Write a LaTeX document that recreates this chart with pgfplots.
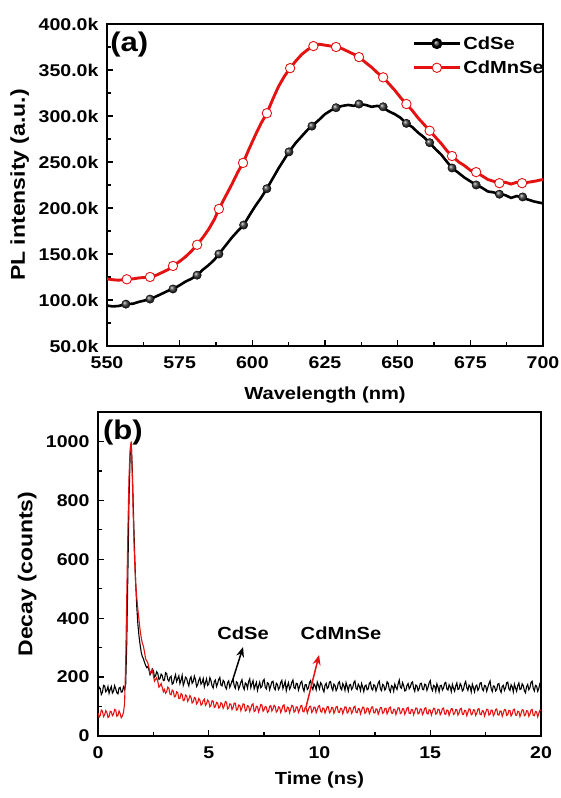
\documentclass[border=0pt]{standalone}
\usepackage{fontspec}
\setmainfont{Liberation Sans}[FakeStretch=1.15]
\usepackage{pgfplots}
\pgfplotsset{compat=1.18}
\usetikzlibrary{arrows.meta}
\definecolor{myred}{RGB}{228,18,18}
\newcommand{\tfont}{\fontsize{17}{19}\selectfont\bfseries}
\newcommand{\lfont}{\fontsize{17.5}{20}\selectfont\bfseries}
\newcommand{\yfont}{\fontsize{20}{22}\selectfont\bfseries}
\pgfplotsset{
  myaxis/.style={
    scale only axis,
    axis line style={line width=1.5pt},
    tick style={line width=1.3pt, black},
    major tick length=6pt,
    minor tick length=3.5pt,
    xtick align=inside,
    ytick align=inside,
    tick pos=left,
    minor x tick num=1,
    minor y tick num=1,
    tick label style={font=\tfont},
    /pgf/number format/assume math mode=true,
    /pgf/number format/1000 sep={},
    xticklabel style={yshift=-7pt},
    yticklabel style={xshift=-5pt},
  }
}
\begin{document}
\begin{tikzpicture}
\useasboundingbox (0pt,0pt) rectangle (560pt,798pt);
% ---------------- (a) ----------------
\begin{axis}[myaxis, at={(107pt,452pt)}, anchor=south west,
  width=436pt, height=322pt,
  xmin=550, xmax=700, ymin=50, ymax=400,
  xtick={550,575,...,700},
  ytick={50,100,...,400},
  yticklabels={50.0k,100.0k,150.0k,200.0k,250.0k,300.0k,350.0k,400.0k},
  xlabel={Wavelength (nm)}, ylabel={PL intensity (a.u.)},
  every axis x label/.style={at={(axis description cs:0.5,-0.152)}, anchor=center, font=\lfont},
  every axis y label/.style={at={(axis description cs:-0.2,0.5)}, anchor=center, rotate=90, font=\yfont},
  legend style={draw=none, fill=none, at={(axis description cs:0.70,0.968)}, anchor=north west,
    font=\lfont, inner sep=0pt, row sep=6pt, cells={anchor=west}},
  legend image code/.code={\draw[mark repeat=2,mark phase=2,#1] plot coordinates {(0pt,0pt)(23pt,0pt)(46pt,0pt)};},
]
\addlegendimage{black, line width=2.6pt, mark=ball, mark size=4.2pt, mark options={ball color=black!75}}
\addlegendentry{CdSe}
\addlegendimage{myred, line width=2.9pt, mark=*, mark size=4.7pt, mark options={fill=white, draw=myred, line width=0.9pt}}
\addlegendentry{CdMnSe}
% CdSe line
\addplot[black, line width=2.6pt, forget plot] coordinates {
(550,94)(552,93)(554,93.5)(556.5,95.5)(559,96)(561,98)(563,99.5)(564.8,101)(567,104)(569,107)
(571,110)(572.7,112)(575,116)(577,120)(579,123)(581,127)(583,133)(585,138)(587,144)(588.5,150)
(591,160)(593,168)(595,175)(597,181.5)(599,192)(601,202)(603,211)(605,221)(607,232)(609,243)
(611,253)(612.6,261)(615,271)(617,278)(619,285)(620.5,289)(623,296)(625,302)(627,306)(628.8,309)
(631,311)(633,312)(635,311)(636.7,313)(639,312)(641,310)(643,311)(645,309)(647,305)(649,302)
(651,298)(653,292)(655,288)(657,282)(659,277)(661,271)(663,264)(665,258)(667,250)(668.7,243.5)
(671,238)(673,233)(675,229)(677,225)(679,222)(681,218)(683,217)(685,215)(687,214)(689,211)
(691,213)(693,211)(695,209)(697,207)(700,205)};
\addplot[only marks, mark=ball, mark size=4.2pt, mark options={ball color=black!75}, forget plot] coordinates {
(556.5,95.5)(564.8,101)(572.7,112)(581,127)(588.5,150)(597,181.5)(605,221)(612.6,261)(620.5,289)
(628.8,309)(636.7,313)(645,310)(653,292)(661,271)(668.7,243.5)(677,225)(685,215)(693,212)};
% CdMnSe line
\addplot[myred, line width=2.9pt, forget plot] coordinates {
(550,123)(552,122)(554,121.5)(556.8,122.5)(559,123)(561,124)(563,124.5)(564.8,125)(567,127)(569,130)
(571,133)(572.7,137)(575,142)(577,147)(579,153)(581,160)(583,168)(585,177)(587,188)(588.5,199)
(591,214)(593,226)(595,239)(596.8,249)(599,265)(601,279)(603,292)(605,303)(607,318)(609,332)
(611,343)(613,352)(615,360)(617,367)(619,372)(621,376)(623,378)(625,377)(627,376)(628.8,375)
(631,373)(633,370)(635,367)(636.7,364)(639,358)(641,353)(643,347)(645,342)(647,335)(649,328)
(651,320)(653,313)(655,306)(657,298)(659,291)(661,284)(663,277)(665,270)(667,262)(668.7,256.5)
(671,250)(673,246)(675,241)(677,239)(679,235)(681,231)(683,229)(685,227)(687,228)(689,226)
(691,228)(693,227)(695,228)(697,229)(700,231)};
\addplot[only marks, mark=*, mark size=4.7pt, mark options={fill=white, draw=myred, line width=0.9pt}, forget plot] coordinates {
(556.8,122.5)(564.8,125)(572.7,137)(581,160)(588.5,199)(596.8,249)(605,303)(613,352)(621,376)
(628.8,375)(636.7,364)(645,342)(653,313)(661,284)(668.7,256.5)(677,239)(685,227)(692.8,227)};
\node[anchor=north west, inner sep=0pt, font=\fontsize{27}{30}\selectfont\bfseries] at (axis description cs:0.007,0.975) {(a)};
\end{axis}
% ---------------- (b) ----------------
\begin{axis}[myaxis, at={(98pt,62pt)}, anchor=south west,
  width=443pt, height=324pt,
  xmin=0, xmax=20, ymin=0, ymax=1100,
  xtick={0,5,...,20}, ytick={0,200,...,1000},
  xlabel={Time (ns)}, ylabel={Decay (counts)},
  every axis x label/.style={at={(axis description cs:0.5,-0.136)}, anchor=center, font=\lfont},
  every axis y label/.style={at={(axis description cs:-0.16,0.5)}, anchor=center, rotate=90, font=\yfont},
]
\addplot[black, line width=1.1pt] coordinates {
(0,150)(0.05,166)(0.1,162)(0.15,141)(0.2,148)(0.25,172)(0.3,170)(0.35,150)(0.4,155)(0.45,168)(0.5,145)(0.55,158)(0.6,168)
(0.65,146)(0.7,152)(0.75,171)(0.8,160)(0.85,147)(0.9,143)(0.95,163)(1.0,165)(1.05,149)(1.1,150)(1.15,167)(1.2,158)
(1.25,175)(1.3,320)(1.35,560)(1.4,800)(1.45,950)(1.5,995)(1.55,900)(1.6,760)(1.65,630)(1.7,520)(1.75,440)(1.8,380)
(1.85,340)(1.9,310)(1.95,285)(2.0,270)(2.05,262)(2.1,250)(2.15,240)(2.2,232)(2.25,236)(2.3,225)(2.35,208)(2.4,215)
(2.45,228)(2.5,222)(2.55,200)(2.6,205)(2.65,218)(2.7,212)(2.75,192)(2.8,195)
(2.85,210)(2.9,205)(2.95,188)(3.0,190)(3.05,215)(3.1,212)(3.15,192)(3.2,186)(3.25,199)(3.3,203)(3.35,176)(3.4,180)
(3.45,196)(3.5,208)(3.55,185)(3.6,195)(3.65,204)(3.7,178)(3.75,190)(3.8,206)(3.85,172)(3.9,183)(3.95,200)(4.0,196)
(4.05,181)(4.1,170)(4.15,193)(4.2,201)(4.25,179)(4.3,185)(4.35,203)(4.4,192)(4.45,168)(4.5,174)(4.55,189)(4.6,198)
(4.65,176)(4.7,182)(4.75,195)(4.8,167)(4.85,181)(4.9,194)(4.95,172)(5.0,176)(5.05,198)(5.1,188)(5.15,170)(5.2,163)
(5.25,185)(5.3,190)(5.35,168)(5.4,178)(5.45,192)(5.5,199)(5.55,173)(5.6,170)(5.65,189)(5.7,184)(5.75,166)(5.8,160)
(5.85,181)(5.9,187)(5.95,165)(6.0,175)(6.05,186)(6.1,193)(6.15,170)(6.2,162)(6.25,184)(6.3,180)(6.35,159)(6.4,169)
(6.45,183)(6.5,191)(6.55,167)(6.6,158)(6.65,180)(6.7,176)(6.75,162)(6.8,185)(6.85,194)(6.9,164)(6.95,178)(7.0,188)
(7.05,160)(7.1,171)(7.15,182)(7.2,155)(7.25,170)(7.3,183)(7.35,164)(7.4,168)(7.45,187)(7.5,192)(7.55,166)(7.6,160)
(7.65,181)(7.7,178)(7.75,157)(7.8,170)(7.85,184)(7.9,186)(7.95,163)(8.0,157)(8.05,179)(8.1,175)(8.15,158)(8.2,165)
(8.25,182)(8.3,189)(8.35,161)(8.4,172)(8.45,185)(8.5,154)(8.55,170)(8.6,181)(8.65,159)(8.7,167)(8.75,183)(8.8,190)
(8.85,164)(8.9,161)(8.95,179)(9.0,177)(9.05,156)(9.1,168)(9.15,181)(9.2,186)(9.25,163)(9.3,152)(9.35,174)(9.4,174)
(9.45,158)(9.5,163)(9.55,182)(9.6,188)(9.65,166)(9.7,158)(9.75,177)(9.8,171)(9.85,157)(9.9,183)(9.95,172)(10.0,160)
(10.05,181)(10.1,176)(10.15,159)(10.2,150)(10.25,172)(10.3,179)(10.35,161)(10.4,166)(10.45,183)(10.5,185)(10.55,164)
(10.6,155)(10.65,176)(10.7,172)(10.75,154)(10.8,162)(10.85,180)(10.9,184)(10.95,163)(11.0,157)(11.05,178)(11.1,170)
(11.15,155)(11.2,181)(11.25,168)(11.3,153)(11.35,173)(11.4,175)(11.45,158)(11.5,164)(11.55,182)(11.6,187)(11.65,162)
(11.7,158)(11.75,176)(11.8,169)(11.85,154)(11.9,178)(11.95,166)(12.0,151)(12.05,170)(12.1,173)(12.15,157)(12.2,160)
(12.25,179)(12.3,183)(12.35,161)(12.4,156)(12.45,174)(12.5,171)(12.55,153)(12.6,165)(12.65,180)(12.7,186)(12.75,160)
(12.8,154)(12.85,175)(12.9,172)(12.95,156)(13.0,163)(13.05,184)(13.1,180)(13.15,158)(13.2,150)(13.25,171)(13.3,168)
(13.35,152)(13.4,176)(13.45,165)(13.5,158)(13.55,177)(13.6,190)(13.65,166)(13.7,162)(13.75,181)(13.8,171)(13.85,153)
(13.9,155)(13.95,172)(14.0,178)(14.05,160)(14.1,166)(14.15,180)(14.2,184)(14.25,162)(14.3,152)(14.35,173)(14.4,170)
(14.45,154)(14.5,161)(14.55,178)(14.6,179)(14.65,159)(14.7,157)(14.75,176)(14.8,174)(14.85,155)(14.9,165)(14.95,181)
(15.0,188)(15.05,163)(15.1,154)(15.15,172)(15.2,169)(15.25,152)(15.3,177)(15.35,166)(15.4,150)(15.45,171)(15.5,172)
(15.55,156)(15.6,163)(15.65,179)(15.7,182)(15.75,160)(15.8,156)(15.85,174)(15.9,167)(15.95,151)(16.0,175)(16.05,162)
(16.1,152)(16.15,170)(16.2,180)(16.25,158)(16.3,160)(16.35,178)(16.4,171)(16.45,153)(16.5,158)(16.55,177)(16.6,185)
(16.65,163)(16.7,155)(16.75,173)(16.8,168)(16.85,150)(16.9,176)(16.95,164)(17.0,150)(17.05,169)(17.1,173)(17.15,155)
(17.2,162)(17.25,180)(17.3,181)(17.35,159)(17.4,154)(17.45,172)(17.5,170)(17.55,152)(17.6,165)(17.65,178)(17.7,187)
(17.75,161)(17.8,151)(17.85,170)(17.9,169)(17.95,153)(18.0,158)(18.05,176)(18.1,178)(18.15,157)(18.2,148)(18.25,168)
(18.3,172)(18.35,155)(18.4,163)(18.45,181)(18.5,183)(18.55,160)(18.6,155)(18.65,174)(18.7,167)(18.75,150)(18.8,176)
(18.85,163)(18.9,152)(18.95,171)(19.0,180)(19.05,158)(19.1,160)(19.15,177)(19.2,171)(19.25,154)(19.3,147)(19.35,168)
(19.4,175)(19.45,157)(19.5,164)(19.55,182)(19.6,186)(19.65,162)(19.7,153)(19.75,172)(19.8,170)(19.85,152)(19.9,161)
(19.95,179)(20.0,178)};
\addplot[myred, line width=1.1pt] coordinates {
(0,78)(0.05,64)(0.1,70)(0.15,88)(0.2,85)(0.25,66)(0.3,72)(0.35,86)(0.4,80)(0.45,63)(0.5,66)(0.55,84)(0.6,82)
(0.65,69)(0.7,74)(0.75,90)(0.8,88)(0.85,67)(0.9,70)(0.95,85)(1.0,76)(1.05,62)(1.1,68)(1.15,80)
(1.2,110)(1.25,250)(1.3,480)(1.35,700)(1.4,880)(1.45,975)(1.5,1000)(1.55,880)(1.6,720)(1.65,600)(1.7,520)
(1.75,470)(1.8,430)(1.85,395)(1.9,360)(1.95,335)(2.0,315)(2.05,305)(2.1,285)(2.15,262)(2.2,255)(2.25,248)(2.3,232)
(2.35,214)(2.4,220)(2.45,224)(2.5,205)(2.55,186)(2.6,192)(2.65,198)(2.7,185)(2.75,166)(2.8,170)(2.85,178)(2.9,165)
(2.95,150)(3.0,158)(3.05,145)(3.1,150)(3.15,166)(3.2,162)(3.25,142)(3.3,140)(3.35,156)(3.4,152)(3.45,133)(3.5,135)
(3.55,150)(3.6,147)(3.65,127)(3.7,128)(3.75,144)(3.8,140)(3.85,120)(3.9,122)(3.95,139)(4.0,136)(4.05,118)(4.1,125)
(4.15,137)(4.2,131)(4.25,112)(4.3,116)(4.35,131)(4.4,128)(4.45,109)(4.5,113)(4.55,127)(4.6,122)(4.65,105)(4.7,108)
(4.75,121)(4.8,125)(4.85,104)(4.9,110)(4.95,122)(5.0,117)(5.05,99)(5.1,104)(5.15,120)(5.2,118)(5.25,97)(5.3,100)
(5.35,114)(5.4,112)(5.45,95)(5.5,98)(5.55,113)(5.6,110)(5.65,94)(5.7,102)(5.75,117)(5.8,115)(5.85,92)(5.9,95)
(5.95,109)(6.0,108)(6.05,90)(6.1,97)(6.15,112)(6.2,111)(6.25,88)(6.3,90)(6.35,105)(6.4,104)(6.45,86)(6.5,96)
(6.55,109)(6.6,108)(6.65,85)(6.7,88)(6.75,103)(6.8,101)(6.85,84)(6.9,94)(6.95,106)(7.0,109)(7.05,83)(7.1,86)
(7.15,101)(7.2,99)(7.25,82)(7.3,92)(7.35,107)(7.4,105)(7.45,84)(7.5,89)(7.55,100)(7.6,98)(7.65,80)(7.7,84)
(7.75,101)(7.8,103)(7.85,85)(7.9,93)(7.95,104)(8.0,100)(8.05,81)(8.1,85)(8.15,99)(8.2,97)(8.25,80)(8.3,90)
(8.35,103)(8.4,106)(8.45,82)(8.5,83)(8.55,98)(8.6,96)(8.65,79)(8.7,91)(8.75,104)(8.8,102)(8.85,81)(8.9,84)
(8.95,99)(9.0,98)(9.05,80)(9.1,88)(9.15,102)(9.2,104)(9.25,83)(9.3,82)(9.35,97)(9.4,95)(9.45,78)(9.5,90)
(9.55,100)(9.6,101)(9.65,80)(9.7,85)(9.75,98)(9.8,97)(9.85,79)(9.9,89)(9.95,101)(10.0,103)(10.05,84)(10.1,81)
(10.15,95)(10.2,94)(10.25,78)(10.3,88)(10.35,100)(10.4,99)(10.45,79)(10.5,83)(10.55,97)(10.6,96)(10.65,77)(10.7,86)
(10.75,99)(10.8,100)(10.85,81)(10.9,80)(10.95,94)(11.0,93)(11.05,76)(11.1,87)(11.15,99)(11.2,98)(11.25,78)(11.3,82)
(11.35,96)(11.4,95)(11.45,77)(11.5,84)(11.55,98)(11.6,101)(11.65,80)(11.7,79)(11.75,93)(11.8,92)(11.85,75)(11.9,86)
(11.95,98)(12.0,97)(12.05,77)(12.1,81)(12.15,95)(12.2,93)(12.25,76)(12.3,85)(12.35,98)(12.4,99)(12.45,79)(12.5,78)
(12.55,92)(12.6,91)(12.65,74)(12.7,84)(12.75,97)(12.8,96)(12.85,77)(12.9,80)(12.95,93)(13.0,94)(13.05,75)(13.1,83)
(13.15,96)(13.2,98)(13.25,78)(13.3,77)(13.35,91)(13.4,90)(13.45,73)(13.5,85)(13.55,96)(13.6,95)(13.65,76)(13.7,79)
(13.75,93)(13.8,92)(13.85,74)(13.9,82)(13.95,95)(14.0,97)(14.05,77)(14.1,76)(14.15,90)(14.2,89)(14.25,72)(14.3,83)
(14.35,95)(14.4,94)(14.45,75)(14.5,78)(14.55,92)(14.6,91)(14.65,73)(14.7,80)(14.75,94)(14.8,96)(14.85,76)(14.9,75)
(14.95,89)(15.0,88)(15.05,71)(15.1,82)(15.15,94)(15.2,93)(15.25,74)(15.3,77)(15.35,91)(15.4,90)(15.45,72)(15.5,79)
(15.55,93)(15.6,95)(15.65,75)(15.7,74)(15.75,88)(15.8,87)(15.85,70)(15.9,81)(15.95,93)(16.0,92)(16.05,73)(16.1,76)
(16.15,90)(16.2,89)(16.25,71)(16.3,78)(16.35,92)(16.4,94)(16.45,74)(16.5,73)(16.55,87)(16.6,86)(16.65,69)(16.7,80)
(16.75,92)(16.8,91)(16.85,72)(16.9,75)(16.95,89)(17.0,88)(17.05,70)(17.1,77)(17.15,91)(17.2,93)(17.25,73)(17.3,72)
(17.35,86)(17.4,85)(17.45,68)(17.5,79)(17.55,91)(17.6,90)(17.65,71)(17.7,74)(17.75,88)(17.8,87)(17.85,69)(17.9,76)
(17.95,90)(18.0,92)(18.05,72)(18.1,71)(18.15,85)(18.2,84)(18.25,67)(18.3,78)(18.35,90)(18.4,89)(18.45,70)(18.5,73)
(18.55,87)(18.6,86)(18.65,68)(18.7,75)(18.75,89)(18.8,91)(18.85,71)(18.9,70)(18.95,84)(19.0,83)(19.05,66)(19.1,77)
(19.15,89)(19.2,88)(19.25,69)(19.3,72)(19.35,86)(19.4,85)(19.45,67)(19.5,74)(19.55,88)(19.6,90)(19.65,70)(19.7,69)
(19.75,83)(19.8,82)(19.85,65)(19.9,76)(19.95,88)(20.0,87)};
\node[font=\lfont] at (axis cs:6.55,349) {CdSe};
\draw[black, line width=1.5pt, -{Stealth[length=10pt,width=8pt]}] (axis cs:6.05,183) -- (axis cs:6.55,302);
\node[font=\lfont] at (axis cs:10.97,349) {CdMnSe};
\draw[myred, line width=1.5pt, -{Stealth[length=10pt,width=8pt]}] (axis cs:9.39,98) -- (axis cs:9.98,275);
\node[anchor=north west, inner sep=0pt, font=\fontsize{27}{30}\selectfont\bfseries] at (axis description cs:0.011,0.975) {(b)};
\end{axis}
\end{tikzpicture}
\end{document}
